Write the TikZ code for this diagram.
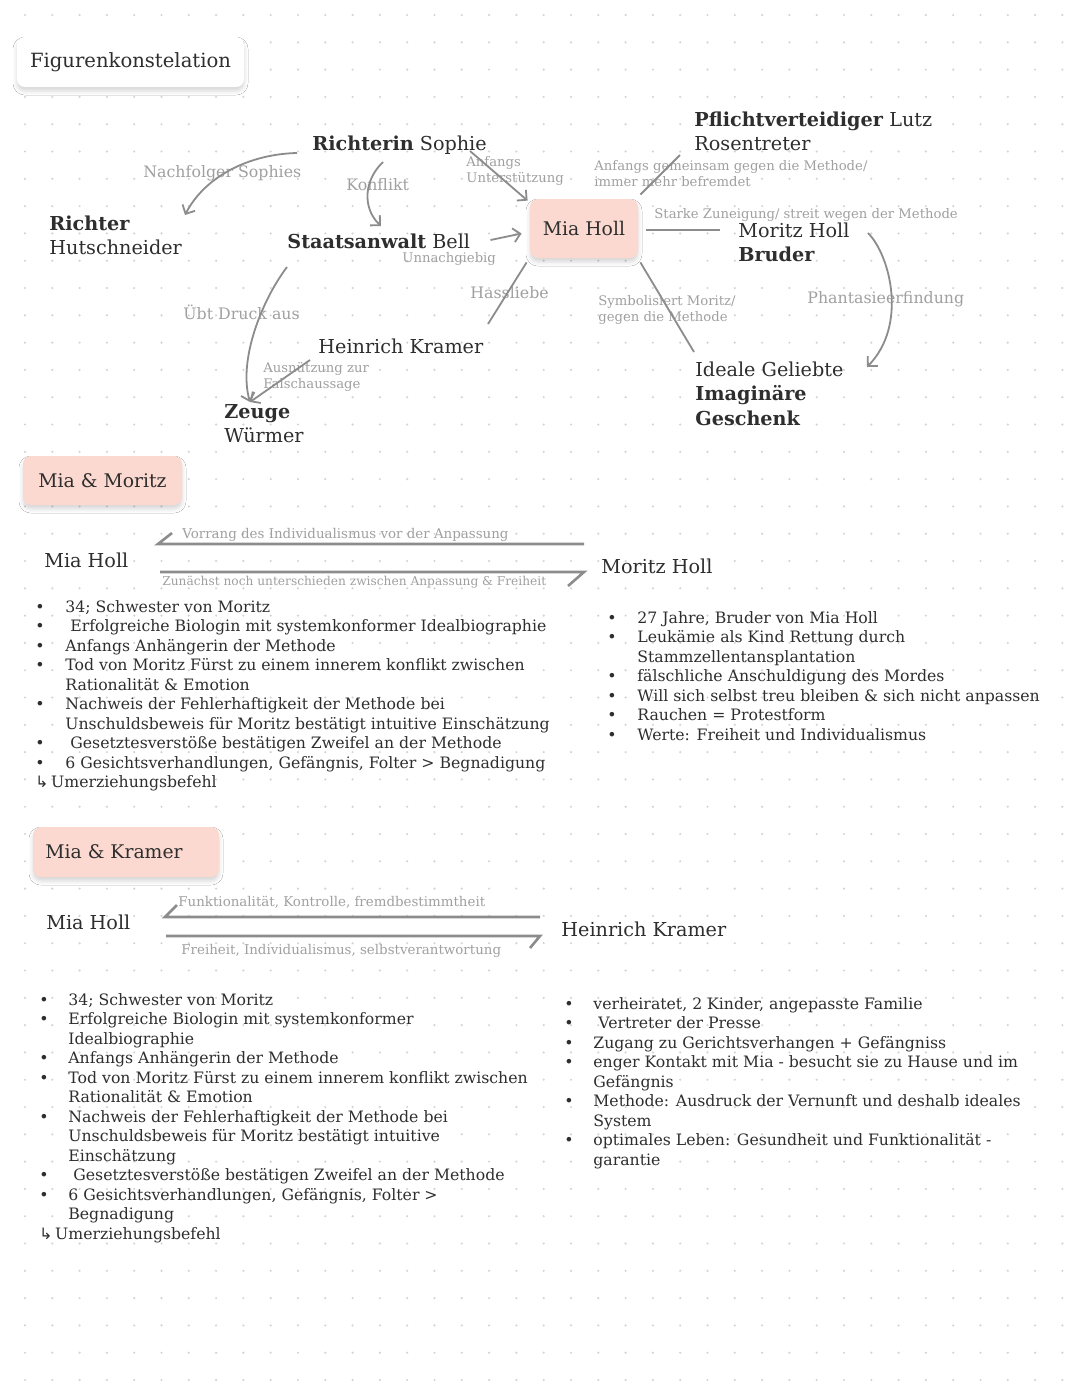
\documentclass[tikz,border=0pt]{standalone}
\usepackage{fontspec}
\setmainfont{DejaVu Serif}
\newfontfamily\symfont{DejaVu Sans}
\usetikzlibrary{arrows.meta,shadows.blur,calc}
\definecolor{txt}{HTML}{2E2E2E}
\definecolor{lbl}{HTML}{A0A0A0}
\definecolor{ln}{HTML}{8C8C8C}
\definecolor{pinkfill}{HTML}{FCD9D0}
\definecolor{dotc}{HTML}{D4D4D4}
\newcommand{\ml}[1]{\begin{tabular}[t]{@{}l@{}}#1\end{tabular}}
\newcommand{\blist}[2]{\begin{tabular}[t]{@{}p{#1}@{}l@{}}#2\end{tabular}}
\newcommand{\bul}{\textbullet}
\tikzset{
  nm/.style={text=txt, inner sep=0pt, anchor=base west, font=\fontsize{9.6}{12.3}\selectfont},
  lb/.style={text=lbl, inner sep=0pt, anchor=base west, font=\fontsize{6.6}{8.2}\selectfont},
  lbbig/.style={lb, font=\fontsize{7.9}{9}\selectfont},
  lbsec/.style={lb, font=\fontsize{6.7}{8}\selectfont},
  body/.style={text=txt, inner sep=0pt, anchor=base west, font=\fontsize{7.85}{9.75}\selectfont},
  shbox/.style={rounded corners=4pt, text=txt, inner sep=0pt,
    blur shadow={shadow xshift=0pt, shadow yshift=-2pt, shadow blur radius=2pt, shadow opacity=16}},
  pinkbox/.style={shbox, fill=pinkfill, font=\fontsize{9.4}{11}\selectfont},
  arr/.style={draw=ln, line width=0.9pt, -{Straight Barb[length=3.5pt,width=7pt]}},
  con/.style={draw=ln, line width=0.9pt},
  rel/.style={draw=ln, line width=1.3pt},
}
\begin{document}
\begin{tikzpicture}[x=0.5pt,y=-0.5pt]
\useasboundingbox (0,0) rectangle (1080,1394);
\fill[white] (0,0) rectangle (1080,1394);
% dot grid
\foreach \i in {0,...,39}{
  \foreach \j in {0,...,50}{
    \fill[dotc] ({25+27.3*\i},{15+27.3*\j}) circle (0.6pt);
  }
}
% title
\node[shbox, fill=white, minimum width=113.5pt, minimum height=25pt, font=\fontsize{9.8}{11}\selectfont] (title) at (130.5,62) {Figurenkonstelation};

% ---------- diagram ----------
\node[pinkbox, minimum width=54pt, minimum height=29.5pt] (mia) at (584,228.5) {Mia Holl};
\node[nm] (sophie) at (312,150) {\textbf{Richterin} Sophie};
\node[nm] (hutsch) at (49,230) {\ml{\textbf{Richter}\\Hutschneider}};
\node[nm] (bell) at (287,248) {\textbf{Staatsanwalt} Bell};
\node[nm] (lutz) at (694,126) {\ml{\textbf{Pflichtverteidiger} Lutz\\Rosentreter}};
\node[nm] (moritz) at (738,237) {\ml{Moritz Holl\\\textbf{Bruder}}};
\node[nm] (kramer) at (318,353) {Heinrich Kramer};
\node[nm] (zeuge) at (224,418) {\ml{\textbf{Zeuge}\\Würmer}};
\node[nm] (geliebte) at (695,376) {\ml{Ideale Geliebte\\\textbf{Imaginäre}\\\textbf{Geschenk}}};

\node[lbbig] (lnach) at (143,177) {Nachfolger Sophies};
\node[lbbig] (lkonf) at (346,190) {Konflikt};
\node[lb] (lanf) at (466,166) {\ml{Anfangs\\Unterstützung}};
\node[lb] (lunn) at (402,262) {Unnachgiebig};
\node[lb] (lgem) at (594,170) {\ml{Anfangs gemeinsam gegen die Methode/\\immer mehr befremdet}};
\node[lb] (lzun) at (654,218) {Starke Zuneigung/ streit wegen der Methode};
\node[lbbig] (lphan) at (807,303) {Phantasieerfindung};
\node[lbbig] (lhass) at (470,298) {Hassliebe};
\node[lb] (lsym) at (598,305) {\ml{Symbolisiert Moritz/\\gegen die Methode}};
\node[lbbig] (ldruck) at (183,319) {Übt Druck aus};
\node[lb] (laus) at (263,372) {\ml{Ausnützung zur\\Falschaussage}};

% connectors
\draw[arr] ($(sophie.base west)+(-15,3)$) .. controls (250,154) and (205,176) .. ($(hutsch.base west)+(136,-15)$);
\draw[arr] ($(sophie.base west)+(71,12)$) .. controls (364,180) and (362,208) .. ($(bell.base west)+(94,-22)$);
\draw[arr] ($(sophie.base west)+(158,1)$) -- ($(mia.north west)+(-2,2)$);
\draw[arr] ($(bell.base east)+(20,-8)$) -- ($(mia.west)+(-8,5)$);
\draw[con] ($(mia.north east)+(2,-4)$) -- ($(lutz.base west)+(-14,29)$);
\draw[con] ($(mia.east)+(8,1.5)$) -- ($(moritz.base west)+(-18,-7)$);
\draw[arr] ($(moritz.base west)+(130,-4)$) .. controls (890,255) and (908,325) .. ($(geliebte.base west)+(172,-9)$);
\draw[con] ($(mia.south west)+(-3,4)$) -- ($(kramer.base west)+(170,-29)$);
\draw[con] ($(mia.south east)+(2,4)$) -- ($(geliebte.base west)+(-1,-24)$);
\draw[arr] ($(bell.base west)+(0,19)$) .. controls (262,300) and (238,360) .. ($(zeuge.base west)+(26,-16)$);
\draw[arr] ($(kramer.base west)+(-8,7)$) -- ($(zeuge.base west)+(26,-16)$);

% ---------- Mia & Moritz ----------
\node[pinkbox, minimum width=79.5pt, minimum height=24.5pt] (secmm) at (102.5,480.5) {Mia \& Moritz};
\node[nm] (smia) at (44,567) {Mia Holl};
\node[nm] (smoritz) at (601,573) {Moritz Holl};
\node[lbsec] (lvor) at (182,538) {Vorrang des Individualismus vor der Anpassung};
\node[lbsec, font=\fontsize{6.1}{8}\selectfont] (lzuna) at (162,585) {Zunächst noch unterschieden zwischen Anpassung \& Freiheit};
\draw[rel] ($(smoritz.base west)+(-17,-29)$) -- ($(smia.base west)+(114,-23)$) -- ++(14,-11);
\draw[rel] ($(smia.base west)+(116,5)$) -- ($(smoritz.base west)+(-17,-1)$) -- ++(-16,14);

\node[body] (mlist) at (35,612) {\blist{15pt}{%
\bul & 34; Schwester von Moritz\\
\bul & \hspace{2.5pt}Erfolgreiche Biologin mit systemkonformer Idealbiographie\\
\bul & Anfangs Anhängerin der Methode\\
\bul & Tod von Moritz Fürst zu einem innerem konflikt zwischen\\
 & Rationalität \& Emotion\\
\bul & Nachweis der Fehlerhaftigkeit der Methode bei\\
 & Unschuldsbeweis für Moritz bestätigt intuitive Einschätzung\\
\bul & \hspace{2.5pt}Gesetztesverstöße bestätigen Zweifel an der Methode\\
\bul & 6 Gesichtsverhandlungen, Gefängnis, Folter > Begnadigung\\
\multicolumn{2}{@{}l@{}}{{\symfont ↳}\,Umerziehungsbefehl}}};

\node[body] (rlist) at (607,623) {\blist{15pt}{%
\bul & 27 Jahre, Bruder von Mia Holl\\
\bul & Leukämie als Kind Rettung durch\\
 & Stammzellentansplantation\\
\bul & fälschliche Anschuldigung des Mordes\\
\bul & Will sich selbst treu bleiben \& sich nicht anpassen\\
\bul & Rauchen = Protestform\\
\bul & Werte: Freiheit und Individualismus}};

% ---------- Mia & Kramer ----------
\node[pinkbox, minimum width=93pt, minimum height=25pt] (secmk) at (126,852) {Mia \& Kramer\hspace*{12pt}};
\node[nm] (kmia) at (46,929) {Mia Holl};
\node[nm] (kkramer) at (561,936) {Heinrich Kramer};
\node[lbsec] (lfun) at (178,906) {Funktionalität, Kontrolle, fremdbestimmtheit};
\node[lbsec] (lfrei) at (181,954) {Freiheit, Individualismus, selbstverantwortung};
\draw[rel] ($(kkramer.base west)+(-21,-19)$) -- ($(kmia.base west)+(119,-12)$) -- ++(12,-12);
\draw[rel] ($(kmia.base west)+(120,7)$) -- ($(kkramer.base west)+(-21,0)$) -- ++(-10,12);

\node[body] (klist) at (39,1005) {\blist{14.5pt}{%
\bul & 34; Schwester von Moritz\\
\bul & Erfolgreiche Biologin mit systemkonformer\\
 & Idealbiographie\\
\bul & Anfangs Anhängerin der Methode\\
\bul & Tod von Moritz Fürst zu einem innerem konflikt zwischen\\
 & Rationalität \& Emotion\\
\bul & Nachweis der Fehlerhaftigkeit der Methode bei\\
 & Unschuldsbeweis für Moritz bestätigt intuitive\\
 & Einschätzung\\
\bul & \hspace{2.5pt}Gesetztesverstöße bestätigen Zweifel an der Methode\\
\bul & 6 Gesichtsverhandlungen, Gefängnis, Folter >\\
 & Begnadigung\\
\multicolumn{2}{@{}l@{}}{{\symfont ↳}\,Umerziehungsbefehl}}};

\node[body] (krlist) at (564,1009) {\blist{14.5pt}{%
\bul & verheiratet, 2 Kinder, angepasste Familie\\
\bul & \hspace{2.5pt}Vertreter der Presse\\
\bul & Zugang zu Gerichtsverhangen + Gefängniss\\
\bul & enger Kontakt mit Mia - besucht sie zu Hause und im\\
 & Gefängnis\\
\bul & Methode: Ausdruck der Vernunft und deshalb ideales\\
 & System\\
\bul & optimales Leben: Gesundheit und Funktionalität -\\
 & garantie}};
\end{tikzpicture}
\end{document}
